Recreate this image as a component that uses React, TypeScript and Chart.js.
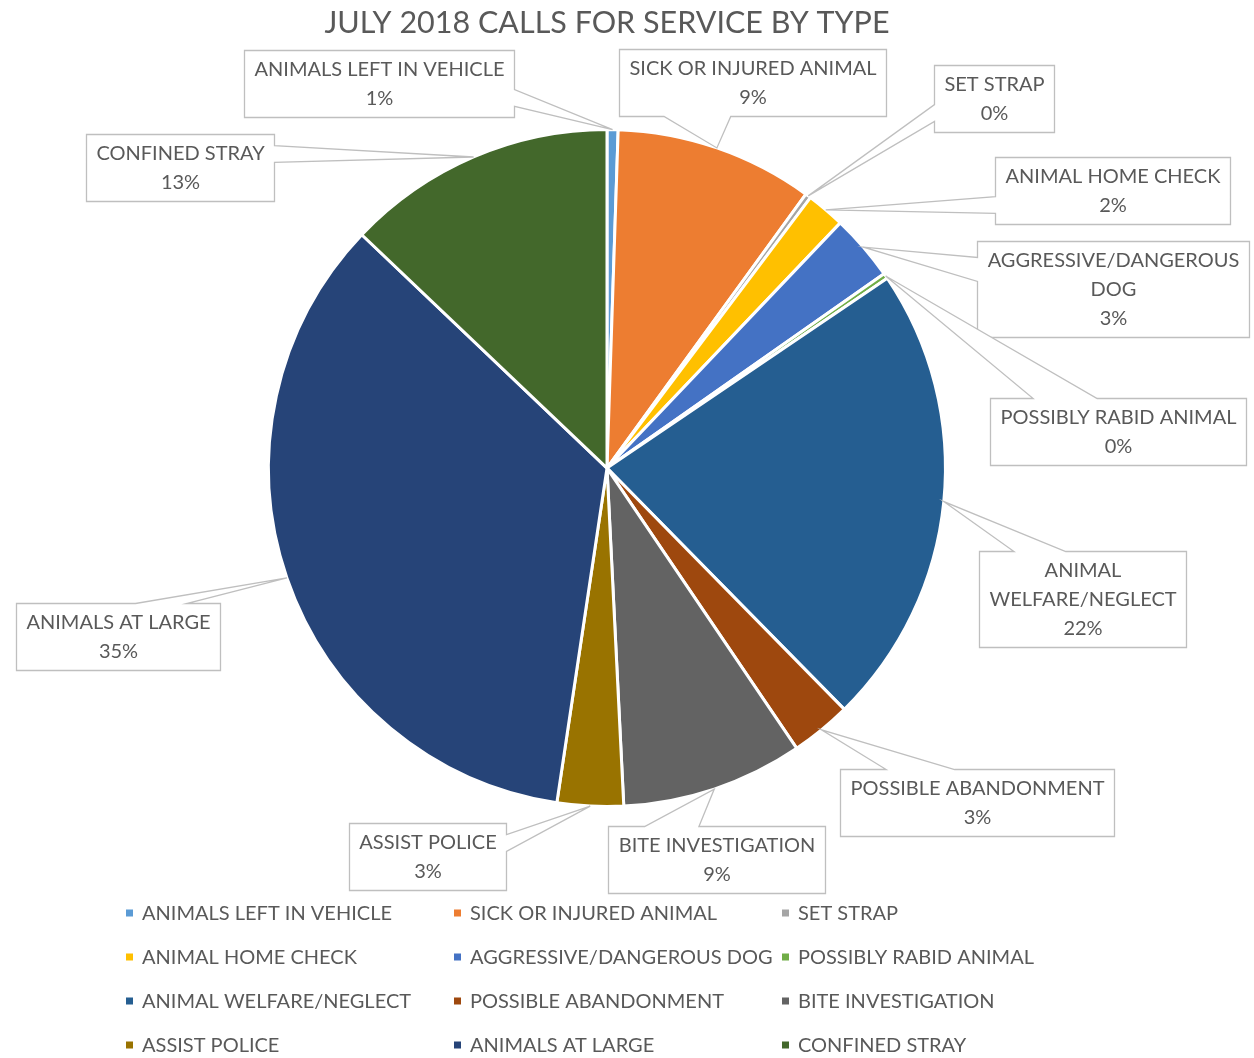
import React, { useEffect, useRef } from "react";
import { Chart, registerables } from "chart.js";

Chart.register(...registerables);

const TITLE = "JULY 2018 CALLS FOR SERVICE BY TYPE";

const CATEGORIES = [
  "ANIMALS LEFT IN VEHICLE",
  "SICK OR INJURED ANIMAL",
  "SET STRAP",
  "ANIMAL HOME CHECK",
  "AGGRESSIVE/DANGEROUS DOG",
  "POSSIBLY RABID ANIMAL",
  "ANIMAL WELFARE/NEGLECT",
  "POSSIBLE ABANDONMENT",
  "BITE INVESTIGATION",
  "ASSIST POLICE",
  "ANIMALS AT LARGE",
  "CONFINED STRAY",
];

const CALLS = [2, 36, 1, 7, 12, 1, 84, 11, 33, 12, 132, 49];

const COLORS = [
  "#5B9BD5",
  "#ED7D31",
  "#A5A5A5",
  "#FFC000",
  "#4472C4",
  "#70AD47",
  "#255E91",
  "#9E480E",
  "#636363",
  "#997300",
  "#264478",
  "#43682B",
];

// callout box centres, expressed in pie radii from the pie centre
const LABEL_OFFSETS = [
  [-0.674, -1.137],
  [0.431, -1.139],
  [1.145, -1.091],
  [1.494, -0.82],
  [1.494, -0.528],
  [1.509, -0.109],
  [1.404, 0.386],
  [1.093, 0.987],
  [0.323, 1.156],
  [-0.531, 1.147],
  [-1.445, 0.499],
  [-1.261, -0.889],
];

const FONT_FAMILY = "Lato, 'Liberation Sans', sans-serif";
const TEXT_COLOR = "#595959";
const BOX_COLOR = "#BFBFBF";
const LABEL_FONT_SIZE = 20;
const LINE_H = 29;
const PAD_X = 10;
const PAD_Y = 4.5;
const WRAP_WIDTH = 262;

const LEGEND_LEFT = 126;
const LEGEND_COL_W = 328;
const LEGEND_TOP = 913;
const LEGEND_ROW_H = 44;
const LEGEND_COLS = 3;
const MARKER = 7;

function wrapText(ctx: CanvasRenderingContext2D, text: string, maxW: number) {
  const words = text.split(" ");
  const lines: string[] = [];
  let cur = "";
  for (const w of words) {
    const test = cur ? cur + " " + w : w;
    if (cur && ctx.measureText(test).width > maxW) {
      lines.push(cur);
      cur = w;
    } else {
      cur = test;
    }
  }
  if (cur) lines.push(cur);
  return lines;
}

// Office "wedgeRectCallout" geometry
function calloutPath(
  ctx: CanvasRenderingContext2D,
  l: number,
  t: number,
  r: number,
  b: number,
  px: number,
  py: number
) {
  const w = r - l;
  const h = b - t;
  const hc = (l + r) / 2;
  const vc = (t + b) / 2;
  const dx = px - hc;
  const dy = py - vc;
  const dq = (dx * h) / w;
  const dz = Math.abs(dy) - Math.abs(dq);
  const x1 = l + (w * (dx > 0 ? 7 : 2)) / 12;
  const x2 = l + (w * (dx > 0 ? 10 : 5)) / 12;
  const y1 = t + (h * (dy > 0 ? 7 : 2)) / 12;
  const y2 = t + (h * (dy > 0 ? 10 : 5)) / 12;
  const xl = dz > 0 ? l : dx > 0 ? l : px;
  const yl = dz > 0 ? y1 : dx > 0 ? y1 : py;
  const xt = dz > 0 ? (dy > 0 ? x1 : px) : x1;
  const yt = dz > 0 ? (dy > 0 ? t : py) : t;
  const xr = dz > 0 ? r : dx > 0 ? px : r;
  const yr = dz > 0 ? y1 : dx > 0 ? py : y1;
  const xb = dz > 0 ? (dy > 0 ? px : x1) : x1;
  const yb = dz > 0 ? (dy > 0 ? py : b) : b;
  ctx.beginPath();
  ctx.moveTo(l, t);
  ctx.lineTo(x1, t);
  ctx.lineTo(xt, yt);
  ctx.lineTo(x2, t);
  ctx.lineTo(r, t);
  ctx.lineTo(r, y1);
  ctx.lineTo(xr, yr);
  ctx.lineTo(r, y2);
  ctx.lineTo(r, b);
  ctx.lineTo(x2, b);
  ctx.lineTo(xb, yb);
  ctx.lineTo(x1, b);
  ctx.lineTo(l, b);
  ctx.lineTo(l, y2);
  ctx.lineTo(xl, yl);
  ctx.lineTo(l, y1);
  ctx.closePath();
}

const calloutPlugin = {
  id: "callouts",
  afterDraw(chart: any) {
    const ctx: CanvasRenderingContext2D = chart.ctx;
    const meta = chart.getDatasetMeta(0);
    const data: number[] = chart.data.datasets[0].data;
    const labels: string[] = chart.data.labels;
    const total = data.reduce((a, b) => a + b, 0);
    ctx.save();
    ctx.font = `${LABEL_FONT_SIZE}px ${FONT_FAMILY}`;
    meta.data.forEach((arc: any, i: number) => {
      const { x, y, startAngle, endAngle, outerRadius } = arc.getProps(
        ["x", "y", "startAngle", "endAngle", "outerRadius"],
        true
      );
      const mid = (startAngle + endAngle) / 2;
      const px = x + Math.cos(mid) * outerRadius;
      const py = y + Math.sin(mid) * outerRadius;
      const lines = [
        ...wrapText(ctx, labels[i], WRAP_WIDTH),
        Math.round((data[i] / total) * 100) + "%",
      ];
      const w = Math.max(...lines.map((s) => ctx.measureText(s).width)) + 2 * PAD_X;
      const h = lines.length * LINE_H + 2 * PAD_Y;
      const cx = x + LABEL_OFFSETS[i][0] * outerRadius;
      const cy = y + LABEL_OFFSETS[i][1] * outerRadius;
      const l = Math.round(cx - w / 2) + 0.5;
      const t = Math.round(cy - h / 2) + 0.5;
      calloutPath(ctx, l, t, l + Math.round(w), t + Math.round(h), px, py);
      ctx.fillStyle = "#FFFFFF";
      ctx.fill();
      ctx.strokeStyle = BOX_COLOR;
      ctx.lineWidth = 1.3;
      ctx.stroke();
      ctx.fillStyle = TEXT_COLOR;
      ctx.textAlign = "center";
      ctx.textBaseline = "middle";
      lines.forEach((s, k) => {
        ctx.fillText(s, l + Math.round(w) / 2, t + PAD_Y + LINE_H * (k + 0.5));
      });
    });

    // legend
    ctx.textAlign = "left";
    ctx.textBaseline = "middle";
    labels.forEach((lab, i) => {
      const col = i % LEGEND_COLS;
      const row = Math.floor(i / LEGEND_COLS);
      const mx = LEGEND_LEFT + col * LEGEND_COL_W;
      const my = LEGEND_TOP + row * LEGEND_ROW_H;
      ctx.fillStyle = chart.data.datasets[0].backgroundColor[i];
      ctx.fillRect(mx, my - MARKER / 2, MARKER, MARKER);
      ctx.fillStyle = TEXT_COLOR;
      ctx.fillText(lab, mx + 16, my + 1);
    });
    ctx.restore();
  },
};

export default function App() {
  const canvasRef = useRef<HTMLCanvasElement | null>(null);

  useEffect(() => {
    if (!canvasRef.current) return;
    const chart = new Chart(canvasRef.current, {
      type: "pie",
      data: {
        labels: CATEGORIES,
        datasets: [
          {
            data: CALLS,
            backgroundColor: COLORS,
            borderColor: "#FFFFFF",
            borderWidth: 3,
          },
        ],
      },
      options: {
        responsive: false,
        animation: false,
        events: [],
        layout: { padding: { top: 0, left: 267, right: 307, bottom: 250 } },
        plugins: {
          legend: { display: false },
          tooltip: { enabled: false },
          title: {
            display: true,
            text: TITLE,
            color: TEXT_COLOR,
            font: { family: FONT_FAMILY, size: 30.5, weight: "normal" as any },
            padding: { top: 4.5, bottom: 87 },
          },
        },
      },
      plugins: [calloutPlugin],
    });
    return () => chart.destroy();
  }, []);

  return (
    <div
      style={{
        position: "absolute",
        left: 0,
        top: 0,
        width: 1254,
        height: 1058,
        background: "#FFFFFF",
      }}
    >
      <canvas ref={canvasRef} width={1254} height={1058} />
    </div>
  );
}
